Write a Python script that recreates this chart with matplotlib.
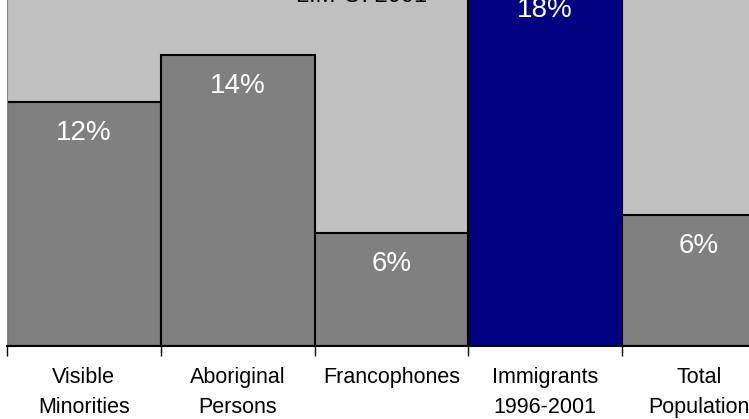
import matplotlib.pyplot as plt
import numpy as np

plt.rcParams['font.family'] = ['Liberation Sans', 'DejaVu Sans']

# data
categories = ['Visible\nMinorities', 'Aboriginal\nPersons', 'Francophones',
              'Immigrants\n1996-2001', 'Total\nPopulation']
values = [11.9, 14.2, 5.5, 17.9, 6.4]
labels = ['12%', '14%', '6%', '18%', '6%']
colors = ['#808080', '#808080', '#808080', '#000080', '#808080']
title = 'LIM-O: 2001'

W, H = 749, 419
fig = plt.figure(figsize=(W / 100, H / 100), dpi=100)

# plot area runs past the top and right of the picture
base_px = 346
top_px = -60
px_per_pct = 20.5
ax = fig.add_axes([7 / W, (H - base_px) / H, 768.75 / W, (base_px - top_px) / H])
ax.set_facecolor('#C0C0C0')

x = np.arange(len(values))
ax.bar(x, values, width=1.0, color=colors, edgecolor='black', linewidth=1.5)
ax.set_xlim(-0.5, len(values) - 0.5)
ax.set_ylim(0, (base_px - top_px) / px_per_pct)

for xi, v, lab in zip(x, values, labels):
    ax.annotate(lab, (xi, v), xytext=(0, -13), textcoords='offset points',
                ha='center', va='top', color='white', fontsize=20)

# ticks on bar edges, labels centred under bars
ax.set_xticks(np.arange(len(values) + 1) - 0.5)
ax.set_xticklabels([])
ax.set_xticks(x, minor=True)
ax.set_xticklabels(categories, minor=True, fontsize=15.5, linespacing=1.6)
ax.tick_params(axis='x', which='major', length=7, width=1, color='black')
ax.tick_params(axis='x', which='minor', length=0, pad=15)
ax.set_yticks([])

for s in ['top', 'right']:
    ax.spines[s].set_visible(False)
ax.spines['left'].set_color('#808080')
ax.spines['bottom'].set_color('black')
ax.spines['bottom'].set_linewidth(1.5)

fig.text(362 / W, (H - 2) / H, title, ha='center', va='baseline', fontsize=17)

fig.savefig('out.png', dpi=100)
